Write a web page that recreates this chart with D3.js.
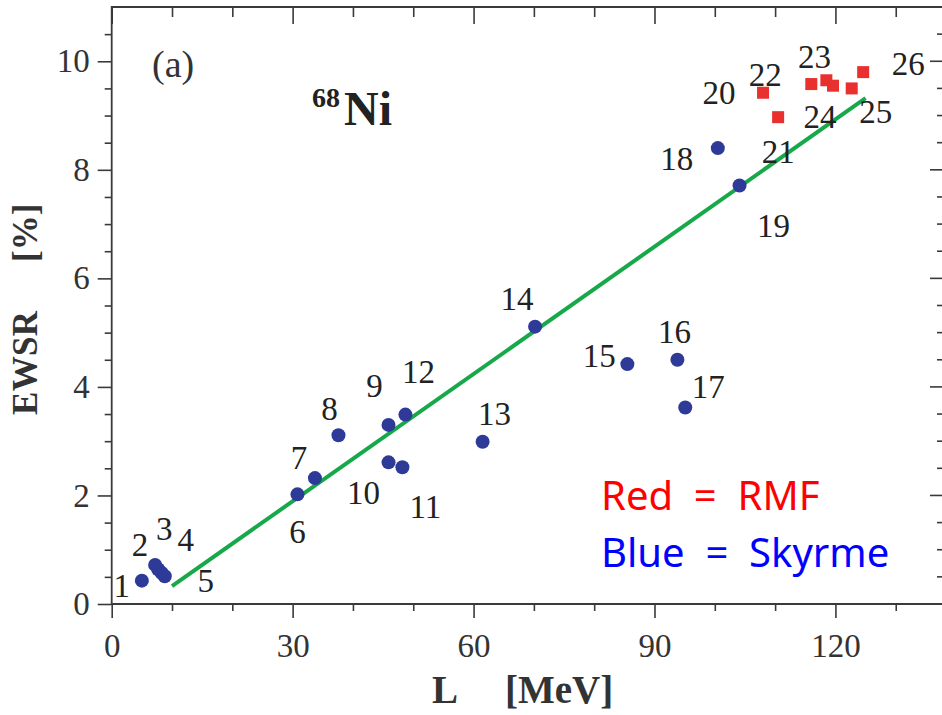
<!DOCTYPE html>
<html>
<head>
<meta charset="utf-8">
<script src="https://cdn.jsdelivr.net/npm/d3@7"></script>
<style>
  html, body { margin: 0; background: #fff; overflow: hidden; }
  svg { display: block; overflow: hidden; }
  text { white-space: pre; }
</style>
</head>
<body>
<svg id="chart" width="942" height="715"></svg>
<script>
// Skyrme parametrisations (blue circles), numbered 1–19
const skyrmeIds  = [1, 2, 3, 4, 5, 6, 7, 8, 9, 10, 11, 12, 13, 14, 15, 16, 17, 18, 19];
const skyrmeL    = [5.0, 7.2, 7.7, 8.3, 8.8, 30.8, 33.7, 37.6, 45.9, 45.9, 48.2, 48.7, 61.5, 70.2, 85.5, 93.8, 95.1, 100.5, 104.1];
const skyrmeEWSR = [0.43, 0.72, 0.64, 0.57, 0.51, 2.02, 2.32, 3.11, 3.30, 2.61, 2.52, 3.49, 2.99, 5.11, 4.42, 4.50, 3.62, 8.40, 7.71];

// RMF parametrisations (red squares), numbered 20–26
const rmfIds  = [20, 21, 22, 23, 24, 25, 26];
const rmfL    = [108.0, 110.5, 116.0, 118.5, 119.6, 122.7, 124.6];
const rmfEWSR = [9.42, 8.97, 9.58, 9.65, 9.55, 9.50, 9.80];

// Linear fit through all models
const fitL    = [10, 125];
const fitEWSR = [0.33, 9.32];

// Axis ticks
const xMajorTicks = [0, 30, 60, 90, 120];
const xMinorTicks = [10, 20, 40, 50, 70, 80, 100, 110, 130];
const yMajorTicks = [0, 2, 4, 6, 8, 10];
const yMinorTicks = [0.5, 1, 1.5, 2.5, 3, 3.5, 4.5, 5, 5.5, 6.5, 7, 7.5, 8.5, 9, 9.5, 10.5];

// Pixel offsets of each model number from its marker (label centre, baseline)
const labelOffset = {
  1: [-20, 16], 2: [-15, -9], 3: [6, -29], 4: [24, -22], 5: [41, 16],
  6: [0, 49], 7: [-16, -9], 8: [-9, -15], 9: [-14, -28], 10: [-25, 42],
  11: [23, 51], 12: [13, -32], 13: [12, -17], 14: [-18, -17], 15: [-28, 3],
  16: [-3, -17], 17: [23, -10], 18: [-41, 22], 19: [34, 51],
  20: [-44, 11], 21: [0, 46], 22: [-46, 2], 23: [-12, -12], 24: [-13, 42],
  25: [24, 35], 26: [45, 3]
};

const svg = d3.select("#chart");
const plotLeft = 111.7, plotRight = 947, plotTop = 7, plotBottom = 604;
const viewRight = 942;

const x = d3.scaleLinear().domain([0, 138.5]).range([plotLeft, plotRight]);
const y = d3.scaleLinear().domain([0, 11]).range([plotBottom, plotTop]);

const axisColor = "#3a3a3a";
const serif = "'Liberation Serif', 'Times New Roman', serif";

// Tick marks on all four sides
function styleAxis(g) {
  g.select(".domain").remove();
  g.selectAll(".tick line").attr("stroke", axisColor).attr("stroke-width", 1.6);
  g.selectAll(".tick text").attr("fill", "#333").attr("font-family", serif).attr("font-size", 33);
}

svg.append("g").attr("transform", `translate(0,${plotBottom})`)
  .call(d3.axisBottom(x).tickValues(xMajorTicks).tickSize(14).tickPadding(16)).call(styleAxis);
svg.append("g").attr("transform", `translate(0,${plotBottom})`)
  .call(d3.axisBottom(x).tickValues(xMinorTicks).tickSize(7).tickFormat("")).call(styleAxis);

svg.append("g").attr("transform", `translate(${plotLeft},0)`)
  .call(d3.axisLeft(y).tickValues(yMajorTicks).tickSize(14).tickPadding(8)).call(styleAxis);
svg.append("g").attr("transform", `translate(${plotLeft},0)`)
  .call(d3.axisLeft(y).tickValues(yMinorTicks).tickSize(7).tickFormat("")).call(styleAxis);

svg.append("g").attr("transform", `translate(0,${plotTop})`)
  .call(d3.axisBottom(x).tickValues(xMajorTicks).tickSize(17).tickFormat("")).call(styleAxis);
svg.append("g").attr("transform", `translate(0,${plotTop})`)
  .call(d3.axisBottom(x).tickValues(xMinorTicks).tickSize(10).tickFormat("")).call(styleAxis);

// Right-hand ticks point inwards from a frame edge just past the view
const rightTicks = svg.append("g");
rightTicks.selectAll("line.major").data(yMajorTicks).join("line").attr("class", "major")
  .attr("x1", viewRight - 12).attr("x2", viewRight)
  .attr("y1", d => y(d)).attr("y2", d => y(d))
  .attr("stroke", axisColor).attr("stroke-width", 1.6);
rightTicks.selectAll("line.minor").data(yMinorTicks).join("line").attr("class", "minor")
  .attr("x1", viewRight - 5).attr("x2", viewRight)
  .attr("y1", d => y(d)).attr("y2", d => y(d))
  .attr("stroke", axisColor).attr("stroke-width", 1.6);

// Frame: left, top and bottom edges (right edge lies beyond the view)
svg.append("path")
  .attr("d", `M${viewRight},${plotTop}H${plotLeft}V${plotBottom}H${viewRight}`)
  .attr("fill", "none").attr("stroke", axisColor).attr("stroke-width", 1.8);

// Fit line
const fitData = fitL.map((l, i) => [l, fitEWSR[i]]);
svg.append("path")
  .datum(fitData)
  .attr("d", d3.line().x(d => x(d[0])).y(d => y(d[1])))
  .attr("stroke", "#17a84a").attr("stroke-width", 4).attr("fill", "none");

// Skyrme markers
const skyrme = skyrmeIds.map((id, i) => ({ id, L: skyrmeL[i], E: skyrmeEWSR[i] }));
svg.append("g").selectAll("circle")
  .data(skyrme).join("circle")
  .attr("cx", d => x(d.L)).attr("cy", d => y(d.E))
  .attr("r", 7).attr("fill", "#2e3a98");

// RMF markers
const rmf = rmfIds.map((id, i) => ({ id, L: rmfL[i], E: rmfEWSR[i] }));
const sq = 12;
svg.append("g").selectAll("rect")
  .data(rmf).join("rect")
  .attr("x", d => x(d.L) - sq / 2).attr("y", d => y(d.E) - sq / 2)
  .attr("width", sq).attr("height", sq).attr("fill", "#e8302f");

// Model numbers
svg.append("g").selectAll("text")
  .data(skyrme.concat(rmf)).join("text")
  .attr("x", d => x(d.L) + labelOffset[d.id][0])
  .attr("y", d => y(d.E) + labelOffset[d.id][1])
  .attr("text-anchor", "middle")
  .attr("font-family", serif).attr("font-size", 33).attr("fill", "#222")
  .text(d => d.id);

// Axis titles
svg.append("text").attr("x", 445).attr("y", 703).attr("text-anchor", "middle")
  .attr("font-family", serif).attr("font-weight", "bold").attr("font-size", 39).attr("fill", "#333")
  .text("L");
svg.append("text").attr("x", 505).attr("y", 703)
  .attr("font-family", serif).attr("font-weight", "bold").attr("font-size", 39).attr("fill", "#333")
  .text("[MeV]");

const yTitle = svg.append("g").attr("transform", "translate(37,415) rotate(-90)");
yTitle.append("text").attr("x", 0).attr("y", 0)
  .attr("font-family", serif).attr("font-weight", "bold").attr("font-size", 35).attr("fill", "#333")
  .attr("textLength", 104).attr("lengthAdjust", "spacing")
  .text("EWSR");
yTitle.append("text").attr("x", 153).attr("y", 0)
  .attr("font-family", serif).attr("font-weight", "bold").attr("font-size", 35).attr("fill", "#333")
  .text("[%]");

// Panel tag and nucleus
svg.append("text").attr("x", 152).attr("y", 77)
  .attr("font-family", serif).attr("font-size", 38).attr("fill", "#333").text("(a)");
svg.append("text").attr("x", 312).attr("y", 107)
  .attr("font-family", serif).attr("font-weight", "bold").attr("font-size", 28).attr("fill", "#222")
  .text("68");
svg.append("text").attr("x", 344).attr("y", 125)
  .attr("font-family", serif).attr("font-weight", "bold").attr("font-size", 48).attr("fill", "#222")
  .text("Ni");

// Colour key
const sans = "'Noto Sans', 'Open Sans', sans-serif";
svg.append("text").attr("x", 601).attr("y", 510)
  .attr("font-family", sans).attr("font-size", 40).attr("fill", "#ff0000").text("Red  =  RMF");
svg.append("text").attr("x", 601).attr("y", 567)
  .attr("font-family", sans).attr("font-size", 40).attr("fill", "#0000ff").text("Blue  =  Skyrme");
</script>
</body>
</html>
